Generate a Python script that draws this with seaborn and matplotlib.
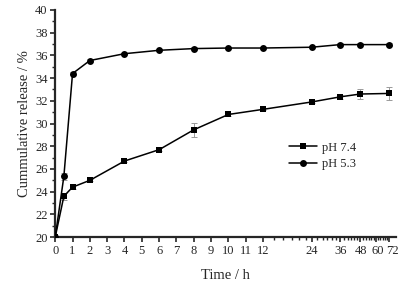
import numpy as np
import pandas as pd
import matplotlib
matplotlib.use("Agg")
import matplotlib.pyplot as plt
import matplotlib.transforms as mtransforms
import seaborn as sns

# data
time_h = [0, 0.5, 1, 2, 4, 6, 8, 10, 12, 24, 36, 48, 72]
ph74 = [20.0, 23.6, 24.4, 25.0, 26.7, 27.7, 29.45, 30.8, 31.25, 31.9, 32.35, 32.6, 32.65]
ph74_err = [0, 0.3, 0.15, 0.1, 0.1, 0.15, 0.6, 0.1, 0.1, 0.1, 0.2, 0.45, 0.6]
ph53 = [20.0, 25.35, 34.4, 35.55, 36.15, 36.45, 36.6, 36.65, 36.65, 36.72, 36.95, 36.95, 36.95]
ph53_err = [0, 0.3, 0.1, 0.1, 0.1, 0.1, 0.1, 0.1, 0.1, 0.1, 0.1, 0.1, 0.15]
x_ticks = [0, 1, 2, 3, 4, 5, 6, 7, 8, 9, 10, 11, 12, 24, 36, 48, 60, 72]

df = pd.DataFrame({
    "t": time_h * 2,
    "v": ph74 + ph53,
    "pH": ["pH 7.4"] * len(time_h) + ["pH 5.3"] * len(time_h),
})

# linear up to 12 h, logarithmic afterwards
K = 4.05
def fwd(x):
    x = np.asarray(x, dtype=float)
    with np.errstate(divide="ignore", invalid="ignore"):
        lg = 12 + K * np.log(np.maximum(x, 1e-9) / 12)
    return np.where(x <= 12, x, lg)

def inv(y):
    y = np.asarray(y, dtype=float)
    with np.errstate(over="ignore", invalid="ignore"):
        ex = 12 * np.exp(np.minimum((y - 12) / K, 50))
    return np.where(y <= 12, y, ex)

sns.set_style("ticks")
plt.rcParams["font.family"] = ["Liberation Serif", "DejaVu Serif"]

fig = plt.figure(figsize=(4.03, 2.85), dpi=100)
ax = fig.add_axes([0.137, 0.168, 0.846, 0.797])
ax.set_xscale("function", functions=(fwd, inv))

ax.errorbar(time_h, ph74, yerr=ph74_err, fmt="none", ecolor="#9a9a9a",
            elinewidth=0.7, capsize=2.5, capthick=0.7, zorder=1)
ax.errorbar(time_h, ph53, yerr=ph53_err, fmt="none", ecolor="#9a9a9a",
            elinewidth=0.7, capsize=2.5, capthick=0.7, zorder=1)

sns.lineplot(data=df, x="t", y="v", hue="pH", style="pH",
             palette={"pH 7.4": "black", "pH 5.3": "black"},
             markers={"pH 7.4": "s", "pH 5.3": "o"}, dashes=False,
             markersize=5, markeredgewidth=0, linewidth=1.1, ax=ax, zorder=3)

ax.set_xlim(0, 80)
ax.set_ylim(20, 40)
ax.set_xticks(x_ticks)
ax.set_xticklabels([str(t) for t in x_ticks])
ax.set_xticks([t for t in range(14, 72, 2) if t not in x_ticks], minor=True)
ax.set_yticks(range(20, 41, 2))
ax.set_yticks(range(20, 41, 1), minor=True)

sns.despine(ax=ax)
for s in ["left", "bottom"]:
    ax.spines[s].set_linewidth(1.6)
ax.tick_params(axis="both", which="major", length=3.5, width=1.2,
               labelsize=9, pad=2)
ax.tick_params(axis="both", which="minor", length=2.2, width=1.0)

# nudge the crowded last labels right, as in the original
for lab, t in zip(ax.get_xticklabels(), x_ticks):
    shift = {48: 1, 60: 2, 72: 4}.get(t, 0)
    if shift:
        lab.set_transform(lab.get_transform() +
                          mtransforms.ScaledTranslation(shift / 100, 0, fig.dpi_scale_trans))

ax.set_xlabel("Time / h", fontsize=10.5, labelpad=9)
ax.set_ylabel("Cummulative release / %", fontsize=10.5, labelpad=3)

ax.legend(frameon=False, fontsize=9, loc="center left",
          bbox_to_anchor=(0.705, 0.453), bbox_transform=fig.transFigure,
          handlelength=2.2, handletextpad=0.4, labelspacing=0.35,
          borderaxespad=0)

fig.savefig("out.png", dpi=100)
